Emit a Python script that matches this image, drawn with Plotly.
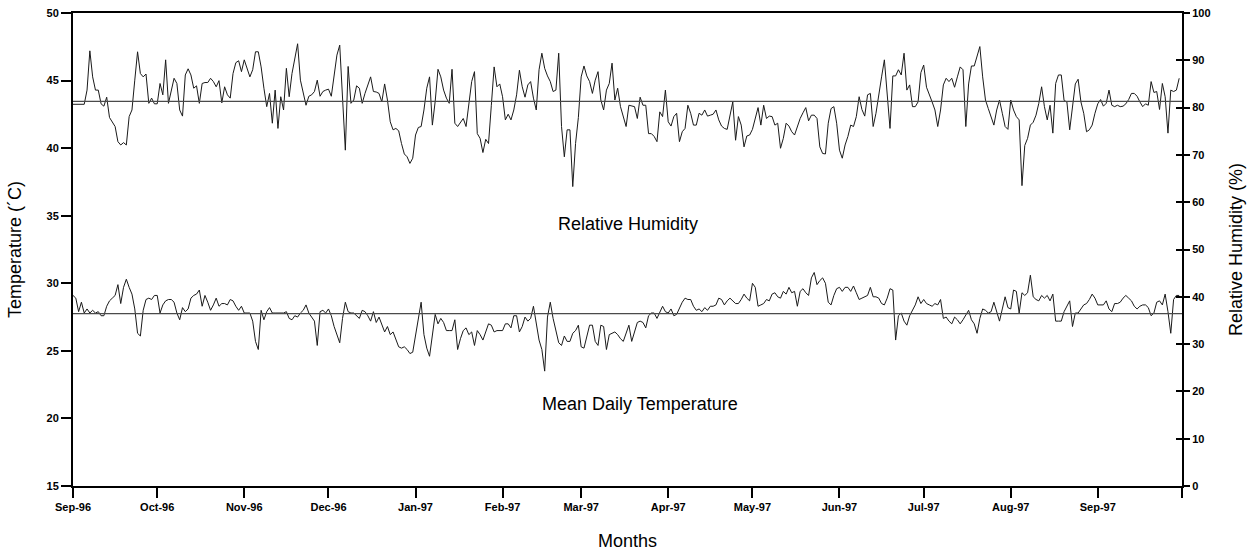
import pandas as pd
import plotly.graph_objects as go

# ---------------- data ----------------
start_date = "1996-09-01"
n_days = 395

rel_humidity = [
    80.7, 80.7, 80.7, 80.7, 80.7, 83.7, 92.0, 86.5, 83.7, 83.7,
    80.8, 80.3, 82.2, 77.9, 76.8, 76.0, 72.8, 72.1, 72.6, 72.1,
    78.1, 79.5, 85.8, 91.8, 87.2, 86.5, 87.1, 80.9, 82.0, 80.8,
    80.8, 85.1, 82.7, 90.1, 80.9, 83.4, 86.2, 85.1, 79.5, 78.2,
    86.9, 88.2, 86.9, 84.1, 84.6, 80.9, 85.1, 85.3, 85.3, 86.2,
    85.5, 84.4, 85.7, 81.0, 84.4, 82.7, 82.0, 87.2, 89.5, 89.9,
    87.6, 90.1, 88.3, 86.5, 88.0, 91.8, 91.8, 88.6, 84.1, 80.2,
    83.0, 76.7, 83.7, 75.6, 82.3, 79.5, 88.3, 82.3, 87.2, 90.1,
    93.5, 85.8, 83.0, 80.5, 82.4, 82.7, 83.4, 85.8, 82.4, 83.4,
    83.7, 83.9, 82.4, 87.2, 91.1, 93.2, 80.9, 71.0, 88.7, 80.9,
    81.6, 84.6, 84.1, 80.9, 83.0, 84.8, 86.5, 83.4, 83.3, 83.0,
    81.2, 85.0, 81.6, 77.0, 75.3, 75.6, 75.1, 72.4, 70.2, 69.6,
    68.2, 69.3, 74.2, 75.8, 76.0, 79.5, 84.1, 86.5, 76.3, 81.3,
    88.1, 86.5, 83.7, 82.0, 80.9, 88.1, 76.7, 76.0, 77.0, 77.7,
    76.0, 80.2, 85.5, 87.6, 74.5, 73.5, 70.5, 73.3, 72.4, 80.5,
    88.6, 84.4, 85.0, 82.3, 77.4, 78.6, 77.4, 79.5, 82.7, 87.9,
    84.4, 82.2, 84.8, 85.5, 82.0, 79.5, 88.0, 91.5, 88.3, 86.7,
    85.5, 83.4, 83.7, 91.5, 76.0, 69.6, 75.3, 75.3, 63.3, 72.4,
    77.9, 86.5, 88.8, 86.7, 85.5, 83.0, 85.8, 87.6, 81.6, 79.5,
    83.7, 85.1, 89.4, 81.6, 84.1, 80.2, 78.2, 76.0, 80.5, 80.3,
    80.2, 77.7, 82.2, 80.5, 80.5, 74.5, 74.5, 73.9, 72.8, 79.1,
    78.1, 83.7, 77.0, 76.1, 78.1, 78.8, 72.8, 74.9, 75.6, 80.5,
    78.8, 76.3, 76.3, 78.8, 78.4, 79.5, 78.2, 78.4, 78.6, 79.5,
    77.4, 76.1, 75.6, 75.4, 78.1, 81.2, 73.1, 78.1, 76.3, 71.7,
    74.0, 74.2, 75.4, 77.9, 80.0, 76.3, 80.5, 77.7, 78.2, 78.1,
    76.3, 76.7, 71.4, 73.5, 76.7, 76.1, 74.9, 74.2, 76.0, 77.7,
    78.9, 80.0, 77.2, 78.4, 78.4, 77.7, 71.7, 70.3, 70.2, 76.7,
    79.8, 80.2, 76.7, 71.0, 69.3, 72.1, 73.9, 76.3, 76.0, 78.1,
    82.3, 79.6, 78.2, 82.7, 83.0, 76.0, 78.8, 83.0, 86.5, 90.1,
    82.7, 75.6, 86.7, 86.7, 88.0, 86.9, 91.5, 83.7, 84.8, 80.2,
    80.2, 81.2, 87.4, 89.0, 84.3, 82.9, 81.2, 79.5, 76.0, 79.5,
    84.8, 86.2, 85.5, 86.2, 84.3, 86.5, 88.6, 88.0, 76.0, 85.0,
    88.8, 88.8, 91.1, 92.9, 86.5, 81.6, 79.8, 77.9, 76.3, 79.5,
    81.6, 78.8, 76.0, 75.4, 81.6, 79.5, 78.1, 77.4, 63.5, 72.0,
    73.5, 76.3, 76.9, 78.4, 80.9, 84.4, 80.2, 77.4, 80.5, 74.6,
    85.1, 86.9, 86.9, 81.5, 81.2, 75.3, 80.5, 85.0, 86.0, 81.2,
    78.8, 74.9, 75.3, 76.3, 78.8, 80.8, 81.7, 80.3, 80.9, 83.7,
    80.5, 80.2, 80.5, 80.2, 80.3, 80.8, 81.7, 83.0, 83.0, 82.4,
    81.2, 80.2, 80.8, 80.5, 85.5, 83.2, 83.4, 79.6, 85.1, 82.3,
    74.6, 83.7, 83.4, 83.7, 86.2,
]

mean_temperature = [
    29.1, 28.9, 27.9, 28.6, 27.8, 28.1, 27.8, 28.0, 27.8, 27.9,
    27.6, 27.6, 28.3, 28.7, 28.9, 29.1, 29.9, 28.5, 29.7, 30.3,
    29.7, 29.2, 28.1, 26.3, 26.1, 28.0, 28.8, 28.9, 28.8, 29.1,
    29.1, 27.8, 28.4, 28.7, 28.8, 28.8, 28.6, 27.8, 27.3, 28.2,
    27.9, 28.1, 28.9, 29.1, 29.2, 29.5, 28.3, 29.1, 28.6, 28.0,
    28.4, 28.9, 28.3, 28.5, 28.5, 28.4, 28.8, 28.7, 28.3, 28.0,
    28.3, 27.8, 27.8, 27.8, 27.2, 25.7, 25.1, 28.0, 27.3, 27.9,
    28.2, 27.8, 27.8, 27.8, 27.8, 27.8, 27.9, 27.4, 27.3, 27.6,
    27.5, 27.8, 28.0, 28.4, 27.8, 27.5, 27.2, 25.4, 27.9, 28.0,
    27.8, 28.1, 27.6, 26.8, 26.2, 25.6, 27.4, 28.6, 27.9, 27.8,
    27.8, 27.6, 27.4, 28.0, 27.9, 27.6, 27.2, 27.9, 27.1, 27.5,
    26.9, 26.4, 26.8, 26.2, 26.4, 25.8, 25.3, 25.2, 25.3, 25.1,
    24.8, 24.9, 26.2, 27.4, 28.6, 26.2, 25.2, 24.6, 26.2, 27.7,
    27.0, 27.4, 27.1, 26.5, 26.5, 26.5, 27.3, 25.1, 25.9, 26.5,
    26.7, 26.2, 26.4, 25.4, 26.5, 26.2, 25.8, 26.4, 27.0, 26.9,
    26.4, 26.5, 26.5, 26.5, 27.0, 27.0, 26.7, 27.6, 27.6, 26.4,
    26.8, 27.5, 27.2, 27.4, 28.3, 27.0, 25.8, 25.1, 23.5, 27.5,
    28.6, 27.4, 26.4, 25.6, 25.4, 26.1, 25.7, 25.7, 26.3, 26.5,
    26.9, 25.3, 25.2, 26.0, 26.9, 26.9, 25.7, 25.4, 26.9, 26.8,
    25.1, 26.2, 26.3, 26.4, 26.2, 25.9, 25.7, 26.3, 26.9, 25.7,
    26.5, 27.1, 27.2, 27.1, 26.7, 27.6, 27.8, 27.8, 27.4, 27.9,
    28.3, 27.9, 27.8, 28.1, 27.6, 27.7, 28.2, 28.6, 28.9, 28.8,
    28.8, 28.3, 28.0, 28.1, 27.9, 28.2, 28.0, 28.3, 28.3, 28.4,
    28.9, 28.8, 28.4, 28.7, 28.9, 28.7, 28.5, 28.5, 28.8, 29.2,
    28.9, 28.7, 30.0, 29.7, 28.3, 28.4, 28.5, 28.8, 28.7, 29.2,
    29.3, 29.0, 28.9, 29.4, 29.2, 29.7, 29.3, 29.4, 28.3, 29.4,
    29.6, 29.3, 29.1, 30.4, 30.8, 29.9, 30.2, 30.4, 30.0, 28.6,
    28.4, 29.1, 29.6, 29.7, 29.4, 29.7, 29.7, 29.4, 29.8, 29.3,
    28.8, 28.9, 29.0, 29.1, 29.7, 29.0, 29.0, 28.9, 28.5, 28.4,
    28.9, 29.6, 29.5, 25.8, 27.6, 27.8, 27.2, 26.9, 27.6, 28.0,
    28.4, 29.0, 28.5, 28.8, 28.5, 28.4, 28.3, 28.5, 28.4, 28.8,
    27.4, 27.5, 27.2, 27.0, 27.5, 27.3, 27.0, 27.3, 27.7, 28.0,
    27.3, 27.0, 26.3, 27.4, 28.1, 28.0, 27.8, 27.9, 28.6, 27.9,
    27.2, 28.1, 29.0, 28.2, 28.1, 29.5, 29.4, 27.8, 29.3, 29.1,
    29.3, 30.6, 29.0, 28.8, 28.7, 29.1, 28.9, 29.1, 28.7, 29.2,
    27.2, 27.2, 27.2, 27.9, 28.3, 28.7, 26.8, 27.8, 27.8, 28.1,
    28.4, 28.5, 28.8, 29.2, 28.9, 28.4, 28.4, 28.4, 28.7, 28.1,
    27.9, 28.5, 28.5, 28.6, 28.9, 29.1, 28.9, 28.7, 28.3, 28.1,
    28.3, 28.4, 28.4, 28.2, 27.6, 27.8, 28.6, 28.7, 28.4, 29.2,
    27.9, 26.3, 28.8, 29.1, 29.1,
]

rh_reference = 81.3      # horizontal reference line (humidity)
temp_reference = 27.75   # horizontal reference line (temperature)

month_ticks = ["1996-09-01", "1996-10-01", "1996-11-01", "1996-12-01",
               "1997-01-01", "1997-02-01", "1997-03-01", "1997-04-01",
               "1997-05-01", "1997-06-01", "1997-07-01", "1997-08-01",
               "1997-09-01", "1997-10-01"]
month_labels = ["Sep-96", "Oct-96", "Nov-96", "Dec-96", "Jan-97", "Feb-97",
                "Mar-97", "Apr-97", "May-97", "Jun-97", "Jul-97", "Aug-97",
                "Sep-97", ""]
x_range = ["1996-09-01", "1997-10-01"]

# ---------------- figure ----------------
dates = pd.date_range(start_date, periods=n_days, freq="D")

line_col = "#1a1a1a"
ref_col = "#4a4a4a"
FONT = "Liberation Sans, Arial, sans-serif"
TICKFONT = dict(family=FONT, size=11, color="black", weight="bold")
TITLE_SIZE = 18

fig = go.Figure()
fig.add_trace(go.Scatter(x=dates, y=rel_humidity, mode="lines", yaxis="y2",
                         line=dict(color=line_col, width=1), name="Relative Humidity"))
fig.add_trace(go.Scatter(x=x_range, y=[rh_reference, rh_reference], mode="lines", yaxis="y3",
                         line=dict(color=ref_col, width=1.2), name="RH mean"))
fig.add_trace(go.Scatter(x=dates, y=mean_temperature, mode="lines", yaxis="y",
                         line=dict(color=line_col, width=1), name="Mean Daily Temperature"))
fig.add_trace(go.Scatter(x=x_range, y=[temp_reference, temp_reference], mode="lines", yaxis="y",
                         line=dict(color=ref_col, width=1.2), name="Temp mean"))

axis_common = dict(showgrid=False, zeroline=False, showline=True, linecolor="black",
                   linewidth=2, ticks="outside", tickwidth=2, tickcolor="black",
                   tickfont=TICKFONT, automargin=False)

fig.update_layout(
    width=1251, height=552,
    margin=dict(l=73, r=69, t=13, b=66),
    paper_bgcolor="white", plot_bgcolor="white",
    showlegend=False,
    font=dict(family=FONT, color="black"),
    xaxis=dict(type="date", range=x_range, tickmode="array", tickvals=month_ticks,
               ticktext=month_labels, mirror=True, ticklen=10,
               title=dict(text="Months", font=dict(family=FONT, size=TITLE_SIZE), standoff=22),
               **axis_common),
    yaxis=dict(range=[15, 50], tickmode="linear", tick0=15, dtick=5, ticklen=10,
               title=dict(text="Temperature (\u00b4C)", font=dict(family=FONT, size=TITLE_SIZE),
                          standoff=20),
               **axis_common),
    yaxis2=dict(range=[0, 100], tickmode="linear", tick0=0, dtick=10, overlaying="y",
                side="right", ticklen=6,
                title=dict(text="Relative Humidity (%)", font=dict(family=FONT, size=TITLE_SIZE),
                           standoff=20),
                **axis_common),
    # inner half of the crossing tick marks on the right-hand axis
    yaxis3=dict(range=[0, 100], tickmode="linear", tick0=0, dtick=10, overlaying="y",
                side="right", showgrid=False, zeroline=False, showline=False,
                ticks="inside", ticklen=6, tickwidth=2, tickcolor="black",
                showticklabels=False),
    annotations=[
        dict(text="Relative Humidity", xref="paper", yref="paper", x=0.5005, y=0.554,
             showarrow=False, font=dict(family=FONT, size=TITLE_SIZE, color="black")),
        dict(text="Mean Daily Temperature", xref="paper", yref="paper", x=0.511, y=0.148,
             showarrow=False, font=dict(family=FONT, size=TITLE_SIZE, color="black")),
    ],
)

fig.write_html("out.html", config={"displayModeBar": False},
               post_script="document.body.style.margin='0';")
